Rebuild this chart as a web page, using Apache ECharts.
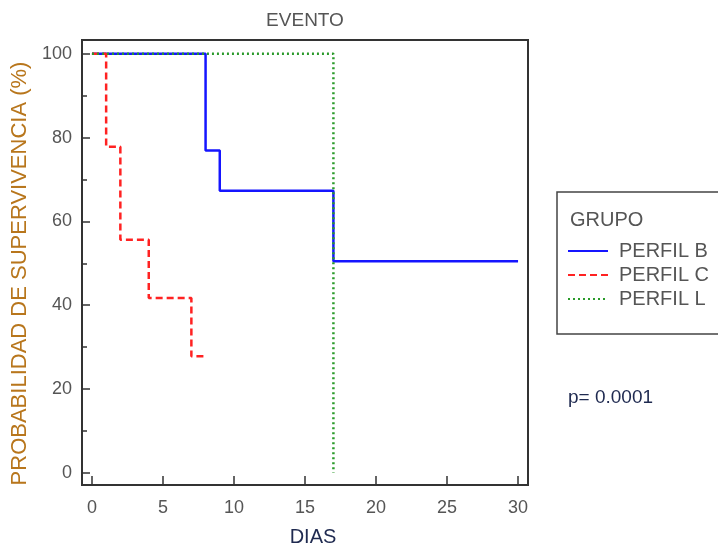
<!DOCTYPE html>
<html>
<head>
<meta charset="utf-8">
<script src="https://cdn.jsdelivr.net/npm/echarts@6/dist/echarts.min.js"></script>
<style>
  html, body { margin: 0; padding: 0; background: #fff; }
  #main { width: 718px; height: 548px; }
</style>
</head>
<body>
<div id="main"></div>
<script>
var dom = document.getElementById('main');
var myChart = echarts.init(dom);

// Kaplan-Meier steps (dia, probabilidad %)
var diasB = [0, 8, 9, 17, 30];
var probB = [100, 76.9, 67.3, 50.5, 50.5];
var diasC = [0, 1, 2, 4, 7, 8];
var probC = [100, 77.8, 55.6, 41.7, 27.8, 27.8];
var diasL = [0, 17];
var probL = [100, 0];

var xTicks = [0, 5, 10, 15, 20, 25, 30];
var yTicks = [0, 20, 40, 60, 80, 100];
var yMinorTicks = [10, 30, 50, 70, 90];

var pairs = function (xs, ys) {
    var res = [];
    for (var i = 0; i < xs.length; i++) {
        res.push([xs[i], ys[i]]);
    }
    return res;
};

var font = '"Liberation Sans", Arial, sans-serif';
var labelStyle = { color: '#555', fontSize: 18, fontFamily: font };
var axisLineStyle = { onZero: false, lineStyle: { color: '#333', width: 2 } };

var option = {
    backgroundColor: '#fff',
    animation: false,
    title: {
        text: 'EVENTO',
        left: 300,
        top: 6,
        textAlign: 'center',
        textStyle: { color: '#555', fontSize: 19, fontWeight: 'normal', fontFamily: font }
    },
    grid: {
        left: 82, top: 40, right: 190, bottom: 63,
        outerBoundsMode: 'none',
        containLabel: false,
        show: true, borderColor: '#333', borderWidth: 2, backgroundColor: '#fff'
    },
    legend: {
        orient: 'vertical',
        left: 562,
        top: 236,
        itemWidth: 40,
        itemHeight: 14,
        itemGap: 4,
        itemStyle: { opacity: 0 },
        textStyle: { color: '#555', fontSize: 20, fontFamily: font, padding: [0, 0, 0, 6] },
        data: ['PERFIL B', 'PERFIL C', 'PERFIL L']
    },
    xAxis: {
        type: 'value',
        min: -0.7,
        max: 30.7,
        name: 'DIAS',
        nameLocation: 'middle',
        nameGap: 42,
        nameTextStyle: { color: '#1f2a50', fontSize: 20, fontFamily: font, padding: [0, 0, 0, 16] },
        axisLine: axisLineStyle,
        axisTick: { inside: true, length: 9, customValues: xTicks, lineStyle: { color: '#333', width: 1.5 } },
        axisLabel: Object.assign({ margin: 14, customValues: xTicks }, labelStyle),
        splitLine: { show: false }
    },
    yAxis: [{
        type: 'value',
        min: -2.9,
        max: 103.3,
        name: 'PROBABILIDAD DE SUPERVIVENCIA (%)',
        nameLocation: 'middle',
        nameGap: 48,
        nameTextStyle: { color: '#b8761c', fontSize: 22, fontFamily: font, padding: [0, 22, 0, 0] },
        axisLine: axisLineStyle,
        axisTick: { inside: true, length: 8, customValues: yTicks, lineStyle: { color: '#333', width: 1.5 } },
        axisLabel: Object.assign({ margin: 10, customValues: yTicks }, labelStyle),
        splitLine: { show: false }
    }, {
        type: 'value',
        position: 'left',
        min: -2.9,
        max: 103.3,
        axisLine: { show: false, onZero: false },
        axisTick: { inside: true, length: 5, customValues: yMinorTicks, lineStyle: { color: '#333', width: 1.5 } },
        axisLabel: { show: false },
        splitLine: { show: false }
    }],
    graphic: [
        {
            type: 'rect',
            shape: { x: 557, y: 192, width: 180, height: 142 },
            style: { fill: 'none', stroke: '#444', lineWidth: 1.5 }
        },
        {
            type: 'text',
            left: 570,
            top: 210,
            style: { text: 'GRUPO', fill: '#555', fontSize: 20, fontFamily: font }
        },
        {
            type: 'text',
            left: 568,
            top: 388,
            style: { text: 'p= 0.0001', fill: '#1f2a50', fontSize: 19, fontFamily: font }
        }
    ],
    series: [
        {
            name: 'PERFIL B',
            type: 'line',
            step: 'end',
            symbol: 'none',
            data: pairs(diasB, probB),
            lineStyle: { color: '#1515ff', width: 2.5, type: 'solid' },
            itemStyle: { color: '#1515ff' },
            z: 2
        },
        {
            name: 'PERFIL C',
            type: 'line',
            step: 'end',
            symbol: 'none',
            data: pairs(diasC, probC),
            lineStyle: { color: '#ff2222', width: 2.5, type: [7, 4] },
            itemStyle: { color: '#ff2222' },
            z: 3
        },
        {
            name: 'PERFIL L',
            type: 'line',
            step: 'end',
            symbol: 'none',
            data: pairs(diasL, probL),
            lineStyle: { color: '#2a9a2a', width: 2.5, type: [2, 3] },
            itemStyle: { color: '#2a9a2a' },
            z: 4
        }
    ]
};

myChart.setOption(option);
</script>
</body>
</html>
